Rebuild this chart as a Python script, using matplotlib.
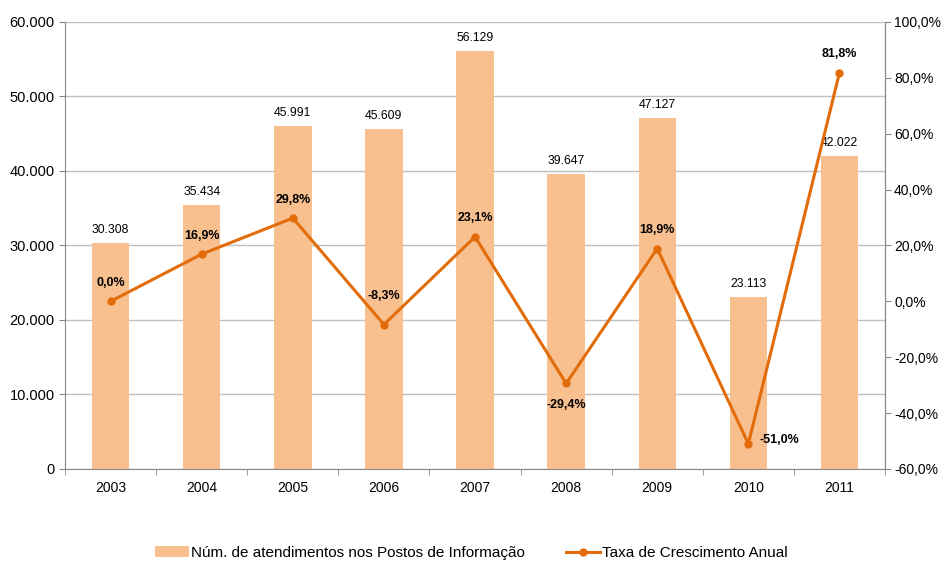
import matplotlib
matplotlib.use("Agg")
import matplotlib.pyplot as plt
from matplotlib.ticker import FuncFormatter

plt.rcParams["font.family"] = ["Liberation Sans", "DejaVu Sans"]

years = ["2003", "2004", "2005", "2006", "2007", "2008", "2009", "2010", "2011"]
atendimentos = [30308, 35434, 45991, 45609, 56129, 39647, 47127, 23113, 42022]
taxa = [0.0, 16.9, 29.8, -8.3, 23.1, -29.4, 18.9, -51.0, 81.8]
# where each growth label sits relative to its point
taxa_label_pos = ["above", "above", "above", "above_far", "above", "below", "above", "right", "above"]

BAR_COLOR = "#F9C08F"
LINE_COLOR = "#E36C0A"


def thousands(v, _pos=None):
    return f"{int(round(v)):,}".replace(",", ".")


def pct(v, _pos=None):
    return f"{v:.1f}%".replace(".", ",")


fig = plt.figure(figsize=(9.43, 5.62), dpi=100)
ax = fig.add_axes([0.069, 0.1655, 0.8695, 0.7955])
ax2 = ax.twinx()

x = list(range(len(years)))
bars = ax.bar(x, atendimentos, width=0.41, color=BAR_COLOR, zorder=2,
              label="Núm. de atendimentos nos Postos de Informação")
for xi, v in zip(x, atendimentos):
    ax.annotate(thousands(v), (xi, v), xytext=(0, 5), textcoords="offset points",
                ha="center", va="bottom", fontsize=8.8)

ax.set_ylim(0, 60000)
ax.set_yticks(range(0, 60001, 10000))
ax.yaxis.set_major_formatter(FuncFormatter(thousands))
ax.set_xlim(-0.5, len(years) - 0.5)
ax.set_xticks(x)
ax.set_xticklabels(years)
ax.set_xticks([i - 0.5 for i in range(len(years) + 1)], minor=True)
ax.tick_params(axis="x", which="major", length=0, pad=9, labelsize=10)
ax.tick_params(axis="x", which="minor", length=4, color="#888888")
ax.tick_params(axis="y", length=4, color="#888888", labelsize=10.5)
ax.grid(axis="y", color="#BFBFBF", linewidth=1, zorder=0)
ax.set_axisbelow(True)
ax.spines["top"].set_visible(False)
for side in ["left", "bottom", "right"]:
    ax.spines[side].set_color("#888888")

line, = ax2.plot(x, taxa, color=LINE_COLOR, linewidth=2.2, marker="o", markersize=5, zorder=3,
                 label="Taxa de Crescimento Anual")
ax2.set_ylim(-60, 100)
ax2.set_yticks(range(-60, 101, 20))
ax2.yaxis.set_major_formatter(FuncFormatter(pct))
ax2.tick_params(axis="y", length=4, pad=2.5, color="#888888", labelsize=10)
for side in ["top", "left", "bottom"]:
    ax2.spines[side].set_visible(False)
ax2.spines["right"].set_color("#888888")

offsets = {
    "above": ((0, 9), "center", "bottom"),
    "above_far": ((0, 16), "center", "bottom"),
    "below": ((0, -11), "center", "top"),
    "right": ((8, 3), "left", "center"),
}
for xi, v, pos in zip(x, taxa, taxa_label_pos):
    off, ha, va = offsets[pos]
    ax2.annotate(pct(v), (xi, v), xytext=off, textcoords="offset points",
                 ha=ha, va=va, fontsize=9, fontweight="bold")

fig.legend(handles=[bars, line], loc="center", bbox_to_anchor=(0.5, 9 / 562), ncol=2,
           frameon=False, fontsize=11, handlelength=2.2, handletextpad=0.15, columnspacing=2.7)

fig.savefig("out.png", dpi=100)
